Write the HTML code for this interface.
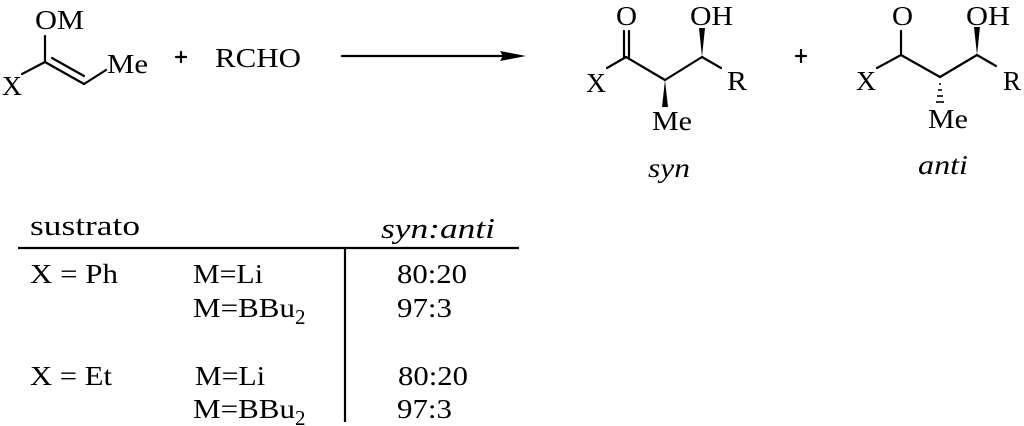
<!DOCTYPE html>
<html><head><meta charset="utf-8"><style>
html,body{margin:0;padding:0;background:#fff;width:1024px;height:426px;overflow:hidden}
svg text{font-family:"Liberation Serif",serif;fill:#000}
</style></head><body>
<svg width="1024" height="426" viewBox="0 0 1024 426" xmlns="http://www.w3.org/2000/svg">
<g font-size="27" stroke="none">
<!-- reactant -->
<text x="35" y="29" textLength="49" lengthAdjust="spacingAndGlyphs">OM</text>
<text x="2" y="95" textLength="20" lengthAdjust="spacingAndGlyphs">X</text>
<text x="107" y="73" textLength="41" lengthAdjust="spacingAndGlyphs">Me</text>
<text x="215" y="67" textLength="86" lengthAdjust="spacingAndGlyphs">RCHO</text>
<!-- syn -->
<text x="616" y="25" textLength="21" lengthAdjust="spacingAndGlyphs">O</text>
<text x="690" y="25" textLength="43" lengthAdjust="spacingAndGlyphs">OH</text>
<text x="586" y="92" textLength="20" lengthAdjust="spacingAndGlyphs">X</text>
<text x="727" y="90" textLength="20" lengthAdjust="spacingAndGlyphs">R</text>
<text x="652" y="130" textLength="40" lengthAdjust="spacingAndGlyphs">Me</text>
<text x="648" y="177" font-style="italic" textLength="42" lengthAdjust="spacingAndGlyphs">syn</text>
<!-- anti -->
<text x="892" y="25" textLength="21" lengthAdjust="spacingAndGlyphs">O</text>
<text x="966" y="25" textLength="44" lengthAdjust="spacingAndGlyphs">OH</text>
<text x="856" y="90" textLength="20" lengthAdjust="spacingAndGlyphs">X</text>
<text x="1003" y="90" textLength="18" lengthAdjust="spacingAndGlyphs">R</text>
<text x="928" y="128" textLength="40" lengthAdjust="spacingAndGlyphs">Me</text>
<text x="918" y="174" font-style="italic" textLength="50" lengthAdjust="spacingAndGlyphs">anti</text>
<!-- table -->
<text x="30" y="235" font-size="29" textLength="110" lengthAdjust="spacingAndGlyphs">sustrato</text>
<text x="381" y="238" font-size="29" font-style="italic" textLength="114" lengthAdjust="spacingAndGlyphs">syn:anti</text>
<text x="30" y="283" textLength="88" lengthAdjust="spacingAndGlyphs">X = Ph</text>
<text x="193" y="283" textLength="70" lengthAdjust="spacingAndGlyphs">M=Li</text>
<text x="193" y="317" textLength="102" lengthAdjust="spacingAndGlyphs">M=BBu</text>
<text x="295" y="324" font-size="21">2</text>
<text x="397" y="283" textLength="70" lengthAdjust="spacingAndGlyphs">80:20</text>
<text x="397" y="317" textLength="55" lengthAdjust="spacingAndGlyphs">97:3</text>
<text x="30" y="385" textLength="82" lengthAdjust="spacingAndGlyphs">X = Et</text>
<text x="195" y="385" textLength="70" lengthAdjust="spacingAndGlyphs">M=Li</text>
<text x="193" y="418" textLength="102" lengthAdjust="spacingAndGlyphs">M=BBu</text>
<text x="295" y="425" font-size="21">2</text>
<text x="398" y="385" textLength="70" lengthAdjust="spacingAndGlyphs">80:20</text>
<text x="397" y="418" textLength="55" lengthAdjust="spacingAndGlyphs">97:3</text>
</g>
<g stroke="#000" stroke-width="2.2" fill="none" stroke-linecap="round">
<line x1="45" y1="36" x2="45" y2="62"/>
<line x1="22" y1="74" x2="45" y2="62"/>
<line x1="45" y1="62" x2="84" y2="84"/>
<line x1="52" y1="58" x2="84" y2="76"/>
<line x1="84" y1="84" x2="106" y2="70"/>
<line x1="181" y1="52" x2="181" y2="62"/><line x1="176" y1="57" x2="186" y2="57"/>
<line x1="801" y1="50" x2="801" y2="62"/><line x1="796" y1="56" x2="806" y2="56"/>
<line x1="342" y1="56" x2="505" y2="56"/>
<line x1="624" y1="31" x2="624" y2="57"/>
<line x1="629" y1="31" x2="629" y2="57"/>
<line x1="607" y1="68" x2="626" y2="57"/>
<line x1="626" y1="57" x2="665" y2="80"/>
<line x1="665" y1="80" x2="702" y2="57"/>
<line x1="702" y1="57" x2="721" y2="68"/>
<line x1="901" y1="31" x2="901" y2="55"/>
<line x1="877" y1="68" x2="901" y2="55"/>
<line x1="901" y1="55" x2="940" y2="77"/>
<line x1="940" y1="77" x2="977" y2="55"/>
<line x1="977" y1="55" x2="996" y2="66"/>
<line x1="18" y1="248" x2="519" y2="248" stroke-linecap="butt"/>
<line x1="345" y1="248" x2="345" y2="422" stroke-linecap="butt"/>
</g>
<polygon points="500,51 526,56 500,61 503,56" fill="#000"/>
<polygon points="665,80 662,107 668,107" fill="#000"/>
<polygon points="702,57 699,28 705,28" fill="#000"/>
<polygon points="977,55 974,27 980,27" fill="#000"/>
<g stroke="#000" stroke-width="1.6">
<line x1="939" y1="84" x2="941" y2="84"/>
<line x1="938" y1="90" x2="942" y2="90"/>
<line x1="937" y1="96" x2="943" y2="96"/>
<line x1="936" y1="102" x2="944" y2="102"/>
</g>
</svg>
</body></html>
